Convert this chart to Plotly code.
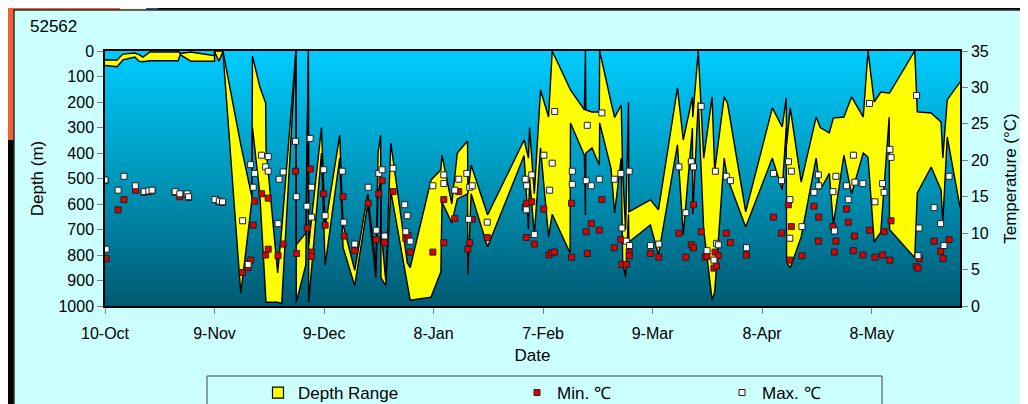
import base64
import pandas as pd
import plotly.graph_objects as go

# ---------------- data ----------------
BASE_DATE = pd.Timestamp("2004-10-10")   # day 0 of the record

# depth range samples: days since 10-Oct, shallowest and deepest depth (m)
depth_day = [0, 3.3, 4.9, 8.2, 9.3, 10.4, 12.3, 20.0, 20.0, 20.6, 23.5, 29.4, 30.0, 30.0, 31.2, 32.3,
             37.2, 40.2, 40.4, 42.4, 44.0, 44.1, 47.3, 48.4, 52.3, 52.4, 55.0, 55.7, 55.8, 59.3,
             60.3, 64.3, 65.2, 68.4, 72.0, 74.2, 74.8, 75.5, 75.6, 76.9, 78.3, 82.8, 83.6, 89.3,
             92.0, 92.3, 95.0, 96.5, 99.3, 99.4, 100.3, 104.8, 114.8, 116.0, 116.3, 117.6, 119.3,
             121.5, 122.5, 127.4, 127.5, 131.3, 131.6, 131.7, 133.4, 135.4, 135.5, 138.6, 139.6,
             141.4, 141.8, 142.6, 143.4, 143.5, 149.4, 151.6, 156.8, 158.4, 160.9, 161.0, 162.5,
             164.0, 166.3, 167.0, 169.6, 170.5, 175.5, 182.8, 185.5, 186.6, 186.7, 187.7, 190.7,
             194.8, 195.9, 198.4, 199.5, 202.4, 204.5, 207.7, 209.0, 210.7, 212.5, 214.8, 214.9,
             221.8, 222.5, 226.3, 229.0, 229.5, 230.7, 234.2]
depth_min = [35, 35, 12, 8, 14, 24, 4, 4, 0, 10, 4, 18, 18, 0, 0, 0,
             368, 570, 20, 140, 204, 380, 870, 700, 0, 760, 714, 0, 760, 300,
             690, 330, 680, 860, 560, 850, 400, 330, 700, 900, 361, 830, 850, 506,
             466, 408, 600, 400, 353, 560, 447, 643, 349, 420, 300, 560, 153,
             259, 0, 153, 153, 231, 0, 231, 239, 239, 0, 200, 260,
             212, 474, 700, 200, 631, 584, 623, 145, 349, 180, 260, 0,
             420, 180, 470, 180, 204, 631, 223, 298, 184, 368, 223, 514,
             259, 300, 321, 263, 259, 180, 259, 0, 200, 161, 165, 165,
             0, 239, 243, 278, 419, 192, 122]
depth_max = [57, 62, 35, 24, 40, 42, 38, 38, 40, 14, 40, 40, 40, 2, 40, 2,
             950, 590, 300, 560, 985, 985, 985, 990, 0, 985, 839, 20, 985, 400,
             840, 420, 770, 920, 600, 890, 560, 500, 890, 920, 550, 900, 977, 965,
             866, 592, 674, 580, 560, 878, 560, 768, 410, 700, 500, 720, 380,
             729, 640, 792, 282, 408, 643, 400, 380, 447, 282, 460, 635,
             420, 827, 886, 640, 749, 682, 800, 368, 721, 302, 640, 200,
             700, 977, 945, 420, 498, 690, 420, 545, 300, 827, 851, 729,
             420, 545, 480, 682, 408, 560, 400, 416, 749, 710, 260, 700,
             811, 557, 455, 545, 670, 337, 612]

# minimum temperature samples (°C)
tmin_day = [0.0, 0.3, 3.6, 5.2, 8.4, 10.7, 12.0, 12.9, 19.2, 20.5, 22.5, 22.9, 30.3, 31.2, 32.2,
            37.6, 39.2, 39.9, 40.6, 41.0, 42.9, 44.0, 44.7, 44.7, 47.4, 48.8, 52.2, 52.5, 55.4,
            56.2, 56.6, 56.6, 59.9, 60.3, 65.2, 65.5, 68.4, 72.1, 74.3, 75.0, 75.9, 76.6, 78.9,
            82.4, 83.0, 83.6, 89.8, 92.8, 92.8, 95.8, 96.9, 99.4, 99.9, 100.6, 104.7, 115.1,
            115.4, 115.5, 116.9, 117.6, 120.2, 121.6, 122.3, 123.1, 127.8, 127.8, 131.8, 132.1,
            133.2, 135.4, 136.1, 139.5, 141.3, 141.6, 142.8, 143.6, 143.6, 149.4, 151.7, 157.2,
            159.1, 160.6, 161.2, 161.2, 163.3, 164.4, 164.9, 166.8, 167.1, 167.5, 168.0, 170.2,
            171.3, 175.7, 183.1, 185.3, 187.2, 187.6, 188.0, 190.9, 194.2, 195.4, 195.5, 199.4,
            199.8, 200.2, 203.1, 203.6, 205.0, 205.3, 207.6, 209.4, 210.9, 213.0, 213.4, 215.0,
            215.3, 222.2, 222.7, 223.1, 227.1, 228.9, 229.6, 231.2]
tmin_val = [17.2, 6.5, 13.2, 14.6, 15.9, 15.6, 15.7, 15.8, 15.6, 15.0, 15.3, 14.9, 14.6, 14.3, 14.2,
            4.6, 5.3, 6.3, 11.1, 14.4, 15.4, 7.0, 14.8, 7.8, 6.9, 8.5, 18.5, 7.2, 10.7,
            18.8, 7.4, 6.8, 15.4, 11.1, 15.0, 9.6, 7.6, 14.1, 9.1, 15.4, 17.2, 8.7, 15.7,
            9.3, 9.7, 7.4, 7.4, 14.6, 8.7, 12.0, 15.7, 7.8, 8.7, 11.9, 9.4, 13.5,
            9.4, 14.1, 14.3, 8.5, 13.3, 7.0, 7.3, 7.4, 14.1, 6.7, 10.2, 7.2,
            11.3, 10.4, 14.6, 8.0, 9.1, 5.7, 5.7, 7.4, 6.9, 7.2, 6.7, 10.0,
            6.7, 8.4, 8.0, 13.9, 10.2, 6.7, 6.8, 5.2, 7.4, 5.5, 6.9, 10.0,
            8.7, 7.0, 12.2, 10.0, 13.9, 6.3, 10.9, 6.9, 13.7, 8.9, 12.2, 10.9,
            7.4, 8.9, 13.3, 11.5, 7.6, 9.6, 7.0, 10.4, 6.7, 7.0, 10.2, 6.3,
            11.7, 5.4, 5.2, 6.5, 8.9, 7.5, 6.5, 9.1]

# maximum temperature samples (°C)
tmax_day = [0.0, 0.3, 3.6, 5.2, 8.3, 10.7, 12.0, 12.9, 19.2, 20.5, 22.5, 22.9, 30.1, 31.3, 32.2,
            37.7, 39.2, 39.9, 40.6, 41.0, 42.9, 44.0, 44.7, 44.7, 47.4, 47.7, 48.8, 52.2, 52.4,
            55.3, 56.2, 56.6, 56.6, 59.9, 60.3, 65.0, 65.4, 68.4, 72.1, 74.3, 75.0, 75.9, 76.6,
            78.9, 82.1, 82.4, 82.8, 83.6, 89.8, 92.8, 92.8, 95.8, 96.9, 99.1, 99.6, 99.9, 100.6,
            104.7, 115.1, 115.4, 115.5, 116.9, 117.6, 120.2, 121.8, 122.5, 123.2, 128.0, 128.0,
            131.8, 132.1, 133.2, 135.4, 136.1, 139.5, 141.3, 141.6, 142.8, 143.6, 143.7, 149.4,
            151.7, 157.2, 159.1, 160.6, 161.2, 163.3, 164.9, 166.8, 167.2, 167.5, 168.0, 170.2,
            171.3, 175.7, 183.1, 185.3, 187.2, 187.6, 187.6, 188.0, 190.9, 194.2, 195.4, 195.5,
            199.4, 199.8, 200.2, 203.1, 203.6, 205.0, 205.4, 207.6, 209.4, 210.9, 213.0, 213.4,
            215.0, 215.3, 222.3, 222.7, 223.0, 227.1, 228.9, 229.8, 231.2]
tmax_val = [17.3, 7.8, 15.9, 17.8, 16.5, 15.7, 15.8, 15.9, 15.7, 15.4, 15.4, 15.0, 14.6, 14.4, 14.3,
            11.7, 5.7, 19.4, 16.3, 18.2, 20.7, 19.1, 20.5, 18.5, 11.3, 17.4, 18.4, 22.6, 15.0,
            13.7, 23.0, 16.3, 12.2, 18.7, 12.4, 18.5, 11.5, 8.5, 16.3, 10.4, 18.2, 18.7, 9.6,
            18.9, 13.9, 10.2, 12.4, 8.9, 16.5, 18.0, 16.8, 15.9, 17.4, 18.2, 11.9, 16.3, 16.5,
            11.5, 17.4, 13.2, 16.5, 18.0, 9.8, 20.7, 15.9, 19.6, 26.7, 18.5, 16.7,
            17.2, 24.8, 16.5, 17.4, 26.5, 17.4, 18.2, 10.7, 8.9, 18.5, 8.3, 8.3,
            8.5, 19.1, 12.8, 19.8, 19.1, 27.4, 7.6, 6.3, 18.5, 8.6, 8.4, 17.8,
            17.2, 8.0, 18.2, 17.2, 19.8, 14.6, 9.3, 18.5, 10.9, 15.6, 18.0, 16.5,
            15.7, 10.3, 17.8, 16.5, 14.6, 20.7, 17.0, 16.8, 27.8, 14.3, 16.8, 15.6,
            21.5, 20.4, 28.9, 6.9, 10.7, 13.5, 11.3, 8.3, 17.8]

tick_dates = ["2004-10-10", "2004-11-09", "2004-12-09", "2005-01-08",
              "2005-02-07", "2005-03-09", "2005-04-08", "2005-05-08"]
tick_labels = ["10-Oct", "9-Nov", "9-Dec", "8-Jan", "7-Feb", "9-Mar", "8-Apr", "8-May"]
depth_ticks = list(range(0, 1001, 100))
temp_ticks = list(range(0, 36, 5))


def to_dates(days):
    return [BASE_DATE + pd.Timedelta(days=d) for d in days]


FONT = "Arial, 'Liberation Sans', sans-serif"
PAGE_OFF = 8                     # the html body margin shifts the figure by 8 px
W, H = 1028 - PAGE_OFF, 404 - PAGE_OFF
ML, MT = 105 - PAGE_OFF, 51 - PAGE_OFF
MR, MB = 68, 98
PW, PH = W - ML - MR, H - MT - MB


def px_x(ref_px):                # reference-picture x pixel -> paper x
    return (ref_px - PAGE_OFF - ML) / PW


def px_y(ref_py):                # reference-picture y pixel -> paper y
    return (H - MB - (ref_py - PAGE_OFF)) / PH


def cx(ref_px):                  # reference x pixel -> container x
    return (ref_px - PAGE_OFF) / W


def cy(ref_py):                  # reference y pixel -> container y
    return (H - (ref_py - PAGE_OFF)) / H


# ---------------- figure ----------------
fig = go.Figure()
dd = to_dates(depth_day)
fig.add_trace(go.Scatter(x=dd, y=depth_min, mode="lines",
                         line=dict(color="black", width=1.4),
                         showlegend=False, hoverinfo="skip"))
fig.add_trace(go.Scatter(x=dd, y=depth_max, mode="lines", fill="tonexty",
                         fillcolor="#FFFF00", line=dict(color="black", width=1.4),
                         name="Depth Range", showlegend=False))
fig.add_trace(go.Scatter(x=[None], y=[None], mode="markers", name="Depth Range",
                         marker=dict(symbol="square", size=11, color="#FFFF00",
                                     line=dict(color="black", width=1.2)),
                         legend="legend"))
fig.add_trace(go.Scatter(x=to_dates(tmin_day), y=tmin_val, mode="markers", name="Min. ℃",
                         yaxis="y2",
                         marker=dict(symbol="square", size=6, color="#E00000",
                                     line=dict(color="#202020", width=1)),
                         legend="legend2"))
fig.add_trace(go.Scatter(x=to_dates(tmax_day), y=tmax_val, mode="markers", name="Max. ℃",
                         yaxis="y2",
                         marker=dict(symbol="square", size=6, color="#FFFFFF",
                                     line=dict(color="#202020", width=1)),
                         legend="legend3"))

# gradient background of the plot area (SVG data URI)
svg = ('<svg xmlns="http://www.w3.org/2000/svg" width="10" height="100" preserveAspectRatio="none">'
       '<defs><linearGradient id="g" x1="0" y1="0" x2="0" y2="1">'
       '<stop offset="0" stop-color="#00CCFF"/><stop offset="0.5" stop-color="#0096BA"/>'
       '<stop offset="1" stop-color="#005A72"/></linearGradient></defs>'
       '<rect width="10" height="100" fill="url(#g)"/></svg>')
svg_uri = "data:image/svg+xml;base64," + base64.b64encode(svg.encode()).decode()

axis_common = dict(showgrid=False, zeroline=False, ticks="outside", ticklen=6,
                   tickcolor="#808080", tickwidth=1, showline=True, linecolor="black",
                   tickfont=dict(family=FONT, size=16, color="black"))

legend_common = dict(xref="container", yref="container", yanchor="middle",
                     xanchor="left", bgcolor="rgba(0,0,0,0)", borderwidth=0,
                     font=dict(family=FONT, size=17, color="black"), orientation="h")

shapes = [
    # legend frame
    dict(type="rect", xref="paper", yref="paper", x0=px_x(207), x1=px_x(882),
         y0=px_y(376), y1=px_y(420), line=dict(color="#404040", width=1),
         fillcolor="rgba(0,0,0,0)"),
    # surrounding slide remnants
    dict(type="rect", xref="paper", yref="paper", x0=px_x(0), x1=px_x(1040),
         y0=px_y(0), y1=px_y(10), line=dict(width=0), fillcolor="#000000"),
    dict(type="rect", xref="paper", yref="paper", x0=px_x(0), x1=px_x(120),
         y0=px_y(0), y1=px_y(10), line=dict(width=0), fillcolor="#EE6236"),
    dict(type="rect", xref="paper", yref="paper", x0=px_x(120), x1=px_x(146),
         y0=px_y(0), y1=px_y(10), line=dict(width=0), fillcolor="#FFF2C8"),
    dict(type="rect", xref="paper", yref="paper", x0=px_x(146), x1=px_x(158),
         y0=px_y(0), y1=px_y(10), line=dict(width=0), fillcolor="#2E4C9A"),
    dict(type="rect", xref="paper", yref="paper", x0=px_x(0), x1=px_x(14),
         y0=px_y(0), y1=px_y(140), line=dict(width=0), fillcolor="#EE6236"),
    dict(type="rect", xref="paper", yref="paper", x0=px_x(0), x1=px_x(14),
         y0=px_y(140), y1=px_y(410), line=dict(width=0), fillcolor="#000000"),
    dict(type="rect", xref="paper", yref="paper", x0=px_x(14), x1=px_x(1040),
         y0=px_y(10), y1=px_y(420), line=dict(color="#303030", width=1.5),
         fillcolor="rgba(0,0,0,0)"),
]

fig.update_layout(
    width=W, height=H,
    margin=dict(l=ML, r=MR, t=MT, b=MB, autoexpand=False),
    paper_bgcolor="#CCFFFF", plot_bgcolor="rgba(0,0,0,0)",
    font=dict(family=FONT, size=16, color="black"),
    images=[dict(source=svg_uri, xref="paper", yref="paper", x=0, y=1, sizex=1, sizey=1,
                 xanchor="left", yanchor="top", sizing="stretch", layer="below")],
    xaxis=dict(type="date",
               range=[BASE_DATE, BASE_DATE + pd.Timedelta(days=234.2)],
               tickvals=tick_dates, ticktext=tick_labels, mirror=True, linewidth=2,
               ticklabelstandoff=6,
               title=dict(text="Date", font=dict(family=FONT, size=17), standoff=8),
               **axis_common),
    yaxis=dict(range=[1000, 0], tickvals=depth_ticks, mirror=True, linewidth=1.5,
               title=dict(text="Depth (m)", font=dict(family=FONT, size=17), standoff=11),
               **axis_common),
    yaxis2=dict(overlaying="y", side="right", range=[0, 35], tickvals=temp_ticks,
                linewidth=1.5,
                title=dict(text="Temperature (°C)", font=dict(family=FONT, size=17), standoff=16),
                **axis_common),
    legend=dict(x=cx(258), y=cy(393), **legend_common),
    legend2=dict(x=cx(517), y=cy(393), **legend_common),
    legend3=dict(x=cx(722), y=cy(393), **legend_common),
    shapes=shapes,
    annotations=[dict(text="52562", xref="paper", yref="paper", x=px_x(28), y=px_y(27),
                      xanchor="left", yanchor="middle", showarrow=False,
                      font=dict(family=FONT, size=17, color="black"))],
)

fig.write_html("out.html")
